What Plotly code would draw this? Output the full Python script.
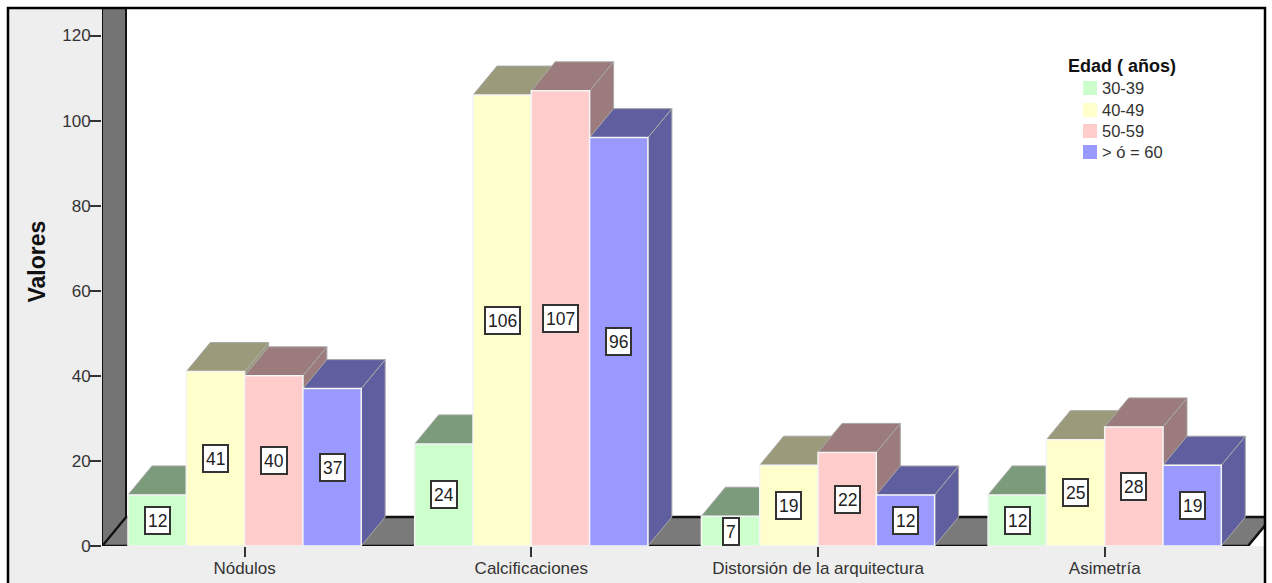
import plotly.graph_objects as go

# Chart data
categories = ["Nódulos", "Calcificaciones", "Distorsión de la arquitectura", "Asimetría"]
age_groups = ["30-39", "40-49", "50-59", "> ó = 60"]
values_30_39 = [12, 24, 7, 12]
values_40_49 = [41, 106, 19, 25]
values_50_59 = [40, 107, 22, 28]
values_60_up = [37, 96, 12, 19]
y_ticks = [0, 20, 40, 60, 80, 100, 120]

series = [values_30_39, values_40_49, values_50_59, values_60_up]
front_colors = ["#ccffcc", "#ffffcc", "#ffcccc", "#9999ff"]
shade_colors = ["#7b9b7b", "#9b9b7b", "#9b7b7b", "#5f5f9f"]

# Canvas and plot area, in pixels
W, H = 1272, 583
LEFT, RIGHT, TOP, BOTTOM = 102, 1265, 8, 546
PX_PER_Y = 4.254
PX_PER_CAT = 286.7
FIRST_CAT_PX = 244.6

x_range = [(LEFT - FIRST_CAT_PX) / PX_PER_CAT, (RIGHT - FIRST_CAT_PX) / PX_PER_CAT]
y_range = [0, (BOTTOM - TOP) / PX_PER_Y]

bar_w = 58.3 / PX_PER_CAT
depth_x = 24 / PX_PER_CAT
depth_y = 29 / PX_PER_Y


def paper_x(px):
    return (px - LEFT) / (RIGHT - LEFT)


def paper_y(px):
    return (BOTTOM - px) / (BOTTOM - TOP)


def polygon(xs, ys, fill, edge, width=1):
    return go.Scatter(
        x=xs, y=ys, mode="lines", fill="toself", fillcolor=fill,
        line=dict(color=edge, width=width), showlegend=False, hoverinfo="skip",
    )


fig = go.Figure()

# Floor and back wall of the box
floor_right = x_range[1] - 17 / PX_PER_CAT
fig.add_trace(polygon(
    [x_range[0], floor_right, floor_right + depth_x, x_range[0] + depth_x, x_range[0]],
    [0, 0, depth_y, depth_y, 0], "#7a7a7a", "#111111", 2.5,
))
fig.add_trace(polygon(
    [x_range[0], x_range[0] + depth_x, x_range[0] + depth_x, x_range[0], x_range[0]],
    [0, depth_y, y_range[1] + 5, y_range[1] + 5, 0], "#747474", "#111111", 2,
))

# Extruded top and side faces, painted left to right
for c in range(len(categories)):
    for k, vals in enumerate(series):
        v = vals[c]
        x0 = c + (k - 2) * bar_w
        x1 = x0 + bar_w
        fig.add_trace(polygon(
            [x1, x1 + depth_x, x1 + depth_x, x1, x1],
            [0, depth_y, v + depth_y, v, 0], shade_colors[k], "#a8a8a8",
        ))
        fig.add_trace(polygon(
            [x0, x1, x1 + depth_x, x0 + depth_x, x0],
            [v, v, v + depth_y, v + depth_y, v], shade_colors[k], "#a8a8a8",
        ))

# Front faces on an overlaid subplot so they cover the extrusions
for k, vals in enumerate(series):
    fig.add_trace(go.Bar(
        x=list(range(len(categories))), y=vals, name=age_groups[k],
        width=bar_w, offset=(k - 2) * bar_w,
        marker=dict(color=front_colors[k], line=dict(color="#f4f4f4", width=1.5)),
        xaxis="x2", yaxis="y2", showlegend=False,
    ))

annotations = []

# Value boxes centred on each front face
for k, vals in enumerate(series):
    for c, v in enumerate(vals):
        annotations.append(dict(
            x=c + (k - 1.5) * bar_w, y=v / 2, xref="x", yref="y",
            text=str(v), showarrow=False, height=21, borderpad=2,
            font=dict(family="Liberation Sans", size=17.5, color="#222222"),
            bgcolor="#ffffff", bordercolor="#333333", borderwidth=2,
        ))

# Axis title
annotations.append(dict(
    x=paper_x(36), y=paper_y(261.5), xref="paper", yref="paper", text="<b>Valores</b>",
    textangle=-90, showarrow=False, xanchor="center", yanchor="middle",
    font=dict(family="Liberation Sans", size=23, color="#111111"),
))

# Legend heading and entries
annotations.append(dict(
    x=paper_x(1068), y=paper_y(66), xref="paper", yref="paper", text="<b>Edad ( años)</b>",
    showarrow=False, xanchor="left", yanchor="middle", xshift=-2,
    font=dict(family="Liberation Sans", size=18, color="#111111"),
))
legend_rows = [88, 110, 131, 152]
shapes = [
    dict(type="rect", xref="paper", yref="paper", layer="below",
         x0=paper_x(8), x1=paper_x(RIGHT), y0=paper_y(600), y1=paper_y(8),
         fillcolor="#eeeeee", line_width=0),
    dict(type="rect", xref="paper", yref="paper", layer="below",
         x0=0, x1=1, y0=0, y1=1, fillcolor="#ffffff", line_width=0),
    dict(type="rect", xref="paper", yref="paper", layer="above",
         x0=paper_x(8), x1=paper_x(RIGHT), y0=paper_y(600), y1=paper_y(8),
         fillcolor="rgba(0,0,0,0)", line=dict(color="#000000", width=2.5)),
]
for row, name, color in zip(legend_rows, age_groups, front_colors):
    shapes.append(dict(
        type="rect", xref="paper", yref="paper", layer="above",
        x0=paper_x(1083), x1=paper_x(1097), y0=paper_y(row + 7), y1=paper_y(row - 7),
        fillcolor=color, line_width=0,
    ))
    annotations.append(dict(
        x=paper_x(1102), y=paper_y(row), xref="paper", yref="paper", text=name,
        showarrow=False, xanchor="left", yanchor="middle", xshift=-2,
        font=dict(family="Liberation Sans", size=16.5, color="#333333"),
    ))

fig.update_layout(
    width=W, height=H,
    margin=dict(l=LEFT, r=W - RIGHT, t=TOP, b=H - BOTTOM, pad=0, autoexpand=False),
    paper_bgcolor="#ffffff", plot_bgcolor="rgba(0,0,0,0)",
    barmode="overlay", showlegend=False,
    font=dict(family="Liberation Sans", color="#333333"),
    annotations=annotations, shapes=shapes,
    xaxis=dict(
        range=x_range, tickmode="array", tickvals=list(range(len(categories))),
        ticktext=categories, ticks="outside", ticklen=10, tickwidth=1.5, tickcolor="#333333",
        ticklabelstandoff=-3, automargin=False,
        tickfont=dict(size=17, color="#333333"), showgrid=False, zeroline=False, showline=False,
    ),
    yaxis=dict(
        range=y_range, tickmode="array", tickvals=y_ticks,
        ticks="outside", ticklen=11, tickwidth=1.5, tickcolor="#333333",
        ticklabelstandoff=-4, automargin=False,
        tickfont=dict(size=17, color="#333333"), showgrid=False, zeroline=False, showline=False,
    ),
    xaxis2=dict(range=x_range, overlaying="x", visible=False),
    yaxis2=dict(range=y_range, overlaying="y", visible=False),
)

fig.write_html("out.html", config=dict(displayModeBar=False))
